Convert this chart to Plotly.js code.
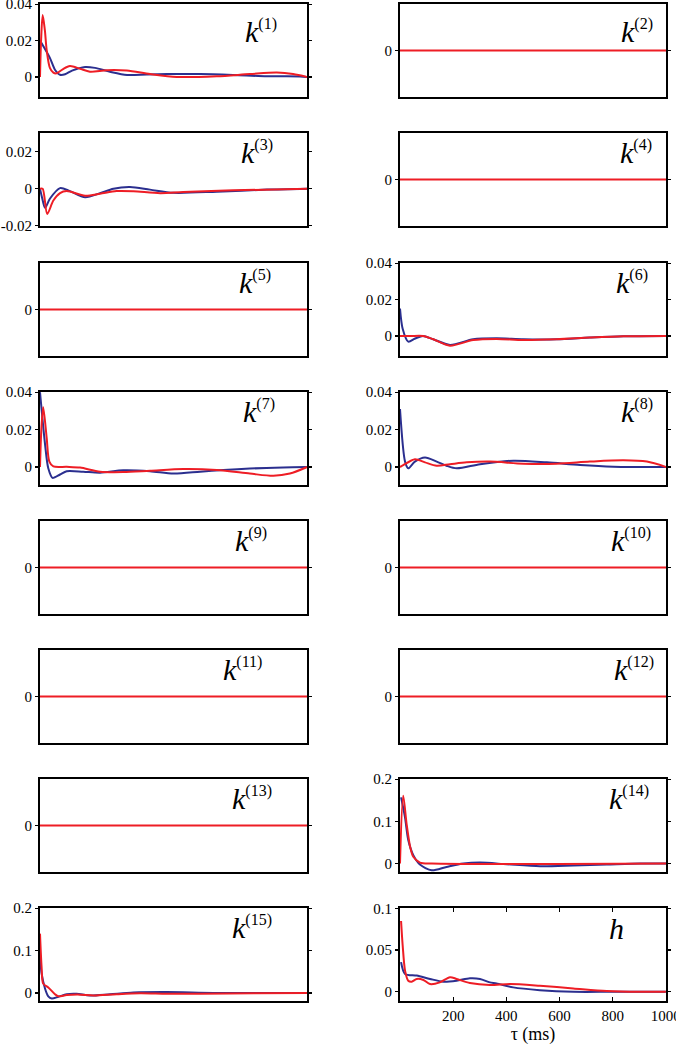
<!DOCTYPE html>
<html>
<head>
<meta charset="utf-8">
<script src="https://cdn.plot.ly/plotly-3.0.1.min.js"></script>
<style>html,body{margin:0;padding:0;background:#fff;}#chart{width:676px;height:1050px;}</style>
</head>
<body>
<div id="chart"></div>
<script>
// ---------- DATA (tau in ms, kernel values) ----------
const panelNames = ["(1)","(2)","(3)","(4)","(5)","(6)","(7)","(8)","(9)","(10)","(11)","(12)","(13)","(14)","(15)","h"];

const flatTau = [0, 1000];
const flatVal = [0, 0];

const k1TauBlue = [0, 37, 56, 75, 94, 120, 169, 206, 262, 326, 400, 476, 600, 723, 850, 974, 1000];
const k1Blue    = [0.020, 0.0105, 0.004, 0.0012, 0.0015, 0.0035, 0.0055, 0.005, 0.0029, 0.0011, 0.0014, 0.0016, 0.0016, 0.0011, 0.0004, 0.0003, 0];
const k1TauRed  = [0, 4, 10, 18, 25, 37, 50, 62, 85, 112, 150, 187, 250, 325, 412, 512, 662, 786, 887, 948, 1000];
const k1Red     = [0, 0.02, 0.034, 0.026, 0.0148, 0.005, 0.0024, 0.002, 0.0042, 0.006, 0.0045, 0.0029, 0.0037, 0.0035, 0.0016, 0.0, 0.0004, 0.0016, 0.0024, 0.0016, 0];

const k3TauBlue = [0, 8, 19, 37, 75, 112, 169, 225, 275, 337, 412, 500, 662, 850, 1000];
const k3Blue    = [0, -0.005, -0.0103, -0.0054, 0.0003, -0.0013, -0.0046, -0.0024, 0, 0.0009, -0.0005, -0.0022, -0.0016, -0.0005, 0];
const k3TauRed  = [0, 10, 27, 50, 75, 100, 169, 225, 287, 350, 450, 537, 724, 1000];
const k3Red     = [0, 0, -0.0136, -0.0064, -0.0024, -0.0013, -0.0038, -0.0027, -0.0013, -0.0014, -0.0024, -0.0018, -0.0009, 0];

const k6TauBlue = [0, 10, 31, 55, 75, 87, 125, 188, 275, 363, 464, 589, 714, 840, 1000];
const k6Blue    = [0.0151, 0.004, -0.0031, -0.0015, -0.0004, 0, -0.0018, -0.0049, -0.0018, -0.0013, -0.0018, -0.0018, -0.0009, -0.0002, 0];
const k6TauRed  = [0, 40, 87, 125, 188, 275, 363, 464, 589, 714, 840, 1000];
const k6Red     = [0, 0, 0, -0.0018, -0.0053, -0.0022, -0.0016, -0.0022, -0.0018, -0.0009, -0.0002, 0];

const k7TauBlue = [0, 19, 31, 47, 75, 100, 162, 225, 312, 412, 500, 600, 687, 786, 911, 1000];
const k7Blue    = [0.04, 0.012, -0.0007, -0.0058, -0.004, -0.0022, -0.0025, -0.003, -0.0017, -0.0022, -0.0035, -0.0025, -0.0016, -0.0008, -0.0002, 0];
const k7TauRed  = [0, 5, 12, 25, 35, 50, 100, 150, 225, 312, 412, 537, 662, 786, 874, 936, 1000];
const k7Red     = [0, 0.02, 0.032, 0.0156, 0.0029, 0.0003, 0.0001, -0.0003, -0.0025, -0.0027, -0.002, -0.0011, -0.0016, -0.0035, -0.0047, -0.0035, 0];

const k8TauBlue = [0, 19, 31, 56, 94, 138, 175, 213, 301, 426, 552, 677, 802, 1000];
const k8Blue    = [0.031, 0.0029, -0.0007, 0.0029, 0.0051, 0.0029, 0.0007, -0.0007, 0.0015, 0.0034, 0.0025, 0.0011, 0.0002, 0];
const k8TauRed  = [0, 12, 56, 94, 138, 188, 251, 338, 464, 589, 714, 840, 928, 1000];
const k8Red     = [0, 0.001, 0.0042, 0.0025, 0.0007, 0.0015, 0.0025, 0.0029, 0.0018, 0.0018, 0.0029, 0.0036, 0.0029, 0];

const k14TauBlue = [4, 19, 31, 50, 75, 119, 175, 238, 301, 401, 526, 652, 777, 903, 1000];
const k14Blue    = [0.157, 0.109, 0.056, 0.020, -0.0024, -0.016, -0.008, 0, 0.0024, -0.0016, -0.0065, -0.0048, -0.0024, 0, 0];
const k14TauRed  = [0, 12, 25, 38, 50, 75, 120, 1000];
const k14Red     = [0, 0.161, 0.093, 0.040, 0.016, 0.0024, 0, 0];

const k15TauBlue = [0, 6, 19, 31, 44, 69, 100, 137, 187, 262, 350, 474, 649, 849, 1000];
const k15Blue    = [0.085, 0.046, 0.010, -0.008, -0.013, -0.009, -0.003, -0.002, -0.006, -0.003, 0.001, 0.002, 0, 0, 0];
const k15TauRed  = [0, 6, 12, 31, 56, 69, 100, 150, 200, 287, 375, 474, 599, 800, 1000];
const k15Red     = [0.14, 0.061, 0.022, 0.013, -0.003, -0.008, -0.005, -0.004, -0.006, -0.003, -0.001, -0.002, -0.002, -0.001, 0];

const hTauBlue = [4, 19, 63, 113, 163, 213, 263, 301, 338, 363, 426, 526, 652, 800, 1000];
const hBlue    = [0.0356, 0.0214, 0.0194, 0.0154, 0.0121, 0.0133, 0.0162, 0.0154, 0.0113, 0.0101, 0.0053, 0.002, 0.0, 0, 0];
const hTauRed  = [4, 10, 19, 31, 44, 63, 88, 113, 150, 188, 213, 263, 338, 414, 526, 652, 777, 903, 1000];
const hRed     = [0.0847, 0.0557, 0.0254, 0.0133, 0.0121, 0.0154, 0.0142, 0.0093, 0.0113, 0.0174, 0.0154, 0.0105, 0.0081, 0.0093, 0.0073, 0.0041, 0.001, 0, 0];

// y-axis ranges and ticks per panel
const yRanges = [
  [-0.011, 0.0401], [-1, 1], [-0.0201, 0.03], [-1, 1],
  [-1, 1], [-0.011, 0.0401], [-0.0096, 0.0401], [-0.0096, 0.0401],
  [-1, 1], [-1, 1], [-1, 1], [-1, 1],
  [-1, 1], [-0.02, 0.2005], [-0.019, 0.2005], [-0.011, 0.1003]
];
const yTickVals = [
  [0, 0.02, 0.04], [0], [-0.02, 0, 0.02], [0],
  [0], [0, 0.02, 0.04], [0, 0.02, 0.04], [0, 0.02, 0.04],
  [0], [0], [0], [0],
  [0], [0, 0.1, 0.2], [0, 0.1, 0.2], [0, 0.05, 0.1]
];
const yTickText = [
  ["0", "0.02", "0.04"], ["0"], ["-0.02", "0", "0.02"], ["0"],
  ["0"], ["0", "0.02", "0.04"], ["0", "0.02", "0.04"], ["0", "0.02", "0.04"],
  ["0"], ["0"], ["0"], ["0"],
  ["0"], ["0", "0.1", "0.2"], ["0", "0.1", "0.2"], ["0", "0.05", "0.1"]
];
const xTickVals = [200, 400, 600, 800, 1000];
const xTickText = ["200", "400", "600", "800", "1000"];

// flat panels: blue coincides with red at 0 and is hidden beneath it
const seriesBlue = [
  [k1TauBlue, k1Blue], null, [k3TauBlue, k3Blue], null,
  null, [k6TauBlue, k6Blue], [k7TauBlue, k7Blue], [k8TauBlue, k8Blue],
  null, null, null, null,
  null, [k14TauBlue, k14Blue], [k15TauBlue, k15Blue], [hTauBlue, hBlue]
];
const seriesRed = [
  [k1TauRed, k1Red], [flatTau, flatVal], [k3TauRed, k3Red], [flatTau, flatVal],
  [flatTau, flatVal], [k6TauRed, k6Red], [k7TauRed, k7Red], [k8TauRed, k8Red],
  [flatTau, flatVal], [flatTau, flatVal], [flatTau, flatVal], [flatTau, flatVal],
  [flatTau, flatVal], [k14TauRed, k14Red], [k15TauRed, k15Red], [hTauRed, hRed]
];

// ---------- LAYOUT ----------
const W = 676, H = 1050;
const colX = [[40, 307], [400, 666]];
const rowTop = [4, 133, 263, 392, 521, 650, 779, 908];
const panelH = 93;
const BLUE = "#2b2f8f", RED = "#ee1d25";
const serif = "\"Liberation Serif\", \"Times New Roman\", \"DejaVu Serif\", serif";

const traces = [];
const layout = {
  width: W, height: H,
  margin: {l: 0, r: 0, t: 0, b: 0},
  paper_bgcolor: "#fff", plot_bgcolor: "#fff",
  showlegend: false,
  font: {family: serif, color: "#000"},
  annotations: []
};

for (let i = 0; i < 16; i++) {
  const r = Math.floor(i / 2), c = i % 2;
  const n = i + 1;
  const xa = "x" + (n === 1 ? "" : n), ya = "y" + (n === 1 ? "" : n);
  const xk = "xaxis" + (n === 1 ? "" : n), yk = "yaxis" + (n === 1 ? "" : n);
  const top = rowTop[r], bot = top + panelH;
  const isH = (i === 15);
  layout[xk] = {
    domain: [colX[c][0] / W, colX[c][1] / W],
    anchor: ya, range: [0, isH ? 1000.5 : 1000], fixedrange: true,
    showgrid: false, zeroline: false,
    showline: true, linecolor: "#000", linewidth: 2, mirror: isH ? "ticks" : true,
    ticks: isH ? "inside" : "", ticklen: 4, tickwidth: 1.2, tickcolor: "#000",
    tickvals: isH ? xTickVals : [], ticktext: isH ? xTickText : [],
    showticklabels: isH, ticklabeloverflow: "allow",
    tickfont: {family: serif, size: 15, color: "#000"},
    automargin: false
  };
  if (isH) {
    layout[xk].title = {text: "τ (ms)", font: {family: serif, size: 18, color: "#000"}, standoff: 4};
  }
  layout[yk] = {
    domain: [1 - bot / H, 1 - top / H],
    anchor: xa, range: yRanges[i], fixedrange: true,
    showgrid: false, zeroline: false,
    showline: true, linecolor: "#000", linewidth: 2, mirror: "ticks",
    ticks: "outside", ticklen: 3, tickwidth: 1.2, tickcolor: "#000",
    tickvals: yTickVals[i], ticktext: yTickText[i], ticklabeloverflow: "allow",
    tickfont: {family: serif, size: 15, color: "#000"},
    automargin: false
  };
  if (seriesBlue[i]) {
    traces.push({
      type: "scatter", mode: "lines", x: seriesBlue[i][0], y: seriesBlue[i][1],
      xaxis: xa, yaxis: ya, line: {color: BLUE, width: 2, shape: "spline", smoothing: 0.8},
      hoverinfo: "skip"
    });
  }
  traces.push({
    type: "scatter", mode: "lines", x: seriesRed[i][0], y: seriesRed[i][1],
    xaxis: xa, yaxis: ya, line: {color: RED, width: 2, shape: "spline", smoothing: 0.8},
    hoverinfo: "skip"
  });
}

// panel labels (left edge px of "k", baseline px)
const labelLeft = [243, 619, 239, 618, 237, 614, 241, 619, 233, 609, 221, 612, 230, 607, 230, 607];
const labelBase = [43, 43, 164, 164, 294, 294, 423, 423, 552, 552, 681, 681, 810, 810, 939, 940];
for (let i = 0; i < 16; i++) {
  const name = panelNames[i];
  const txt = name === "h" ? "<i>h</i>" :
    "<i>k</i><sup><span style='font-size:16px'>" + name + "</span></sup>";
  layout.annotations.push({
    xref: "paper", yref: "paper",
    x: labelLeft[i] / W, y: 1 - (labelBase[i] + 7) / H,
    xanchor: "left", yanchor: "bottom",
    text: txt, showarrow: false,
    font: {family: serif, size: 30, color: "#000"}
  });
}

Plotly.newPlot("chart", traces, layout, {staticPlot: true, displayModeBar: false});
</script>
</body>
</html>
